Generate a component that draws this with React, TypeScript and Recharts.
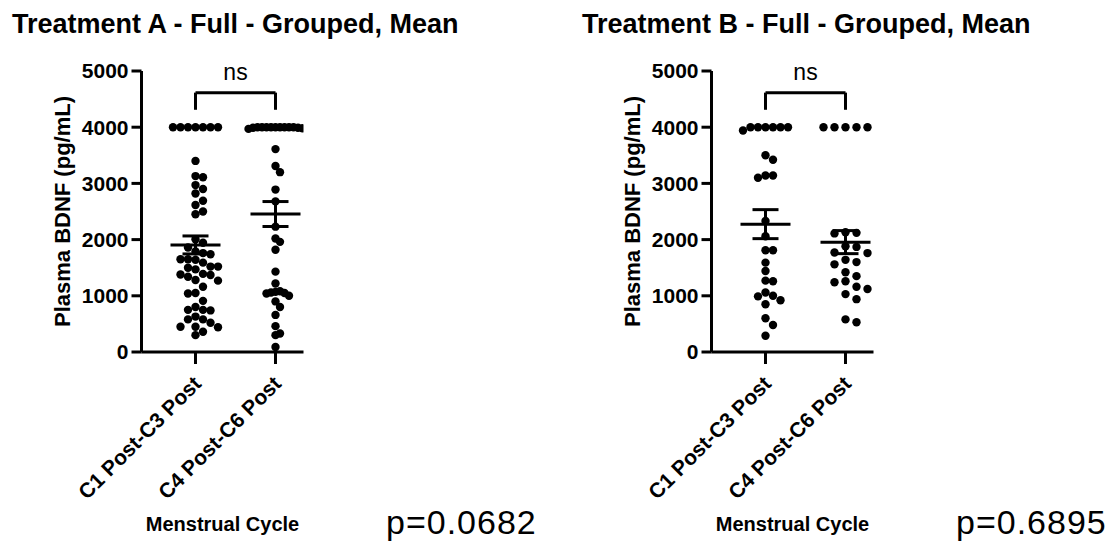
import React from "react"
import { ScatterChart, Scatter, XAxis, YAxis, ErrorBar, ReferenceLine, Label } from "recharts"

// categories and axis ticks
const groups = ["C1 Post-C3 Post", "C4 Post-C6 Post"]
const yTicks = [0, 1000, 2000, 3000, 4000, 5000]

// plasma BDNF (pg/mL)
const treatmentA_C1C3 = [
  4000, 4000, 4000, 4000, 4000, 4000, 4000, 3400, 3130, 3110, 2970, 2900, 2820, 2690, 2615, 2500, 2450,
  2005, 1945, 1860, 1790, 1760, 1740, 1650, 1650, 1640, 1590, 1520, 1520, 1500, 1470, 1390, 1380, 1370,
  1340, 1280, 1270, 1160, 1050, 1040, 910, 800, 750, 750, 740, 630, 580, 580, 520, 450, 450, 440, 360, 300,
]
const treatmentA_C4C6 = [
  4000, 4000, 4000, 3990, 4000, 3980, 4000, 4000, 3990, 4000, 4000, 3970, 4000, 3610, 3310, 3200, 2890,
  2680, 2230, 2020, 1960, 1820, 1430, 1220, 1080, 1070, 1060, 1050, 1040, 1000, 900, 800, 660, 460, 330,
  300, 90,
]
const treatmentB_C1C3 = [
  4000, 4000, 3940, 4000, 4000, 4000, 4000, 3500, 3420, 3140, 3100, 3140, 2330, 2060, 1810, 1810, 1590,
  1440, 1270, 1260, 1060, 1000, 990, 920, 850, 600, 480, 290,
]
const treatmentB_C4C6 = [
  4000, 4000, 4000, 4000, 4000, 2130, 2110, 2120, 1880, 1870, 1770, 1760, 1640, 1600, 1560, 1420, 1350,
  1260, 1240, 1160, 1120, 1030, 940, 580, 530,
]

// mean and SEM per group
const meansA = [1905, 2455]
const semA = [160, 222]
const meansB = [2275, 1955]
const semB = [258, 205]

const titles = ["Treatment A - Full - Grouped, Mean", "Treatment B - Full - Grouped, Mean"]
const pValues = ["p=0.0682", "p=0.6895"]
const sigLabel = "ns"

// layout
const FONT = "'Liberation Sans', Arial, Helvetica, sans-serif"
const CHART_W = 556
const CHART_H = 544
const PLOT_H = 281
const X_PX_PER_UNIT = 80
const Y_MAX = 5000
const DOT_R = 4.2
const BRACKET_TOP = 4615
const BRACKET_FOOT = 4310

// lattice beeswarm like Prism: each point takes the nearest free column slot
function swarm(values: number[], center: number, slotPx: number) {
  const yPx = PLOT_H / Y_MAX
  const placed: { k: number; v: number }[] = []
  return [...values]
    .sort((a, b) => b - a)
    .map((v) => {
      let k = 0
      for (let i = 0; i < 50; i++) {
        k = i === 0 ? 0 : i % 2 ? (i + 1) / 2 : -i / 2
        if (!placed.some((p) => p.k === k && Math.abs(p.v - v) * yPx < DOT_R * 2)) break
      }
      placed.push({ k, v })
      return { x: center + (k * slotPx) / X_PX_PER_UNIT, y: v }
    })
}

const Dot = (props: any) => <circle cx={props.cx} cy={props.cy} r={DOT_R} fill="#000" />

const MeanBar = (props: any) => (
  <line x1={props.cx - 25} x2={props.cx + 25} y1={props.cy} y2={props.cy} stroke="#000" strokeWidth={3} />
)

const CategoryTick = (props: any) => {
  const { x, y, payload } = props
  const tx = x + 7
  const ty = y + 19
  return (
    <text
      x={tx}
      y={ty}
      transform={`rotate(-45 ${tx} ${ty})`}
      textAnchor="end"
      fontSize={21}
      fontWeight={700}
      fill="#000"
    >
      {groups[payload.value]}
    </text>
  )
}

const YTitle = (props: any) => {
  const { viewBox } = props
  const cx = viewBox.x + 8
  const cy = viewBox.y + viewBox.height / 2
  return (
    <text x={cx} y={cy} transform={`rotate(-90 ${cx} ${cy})`} textAnchor="middle" fontSize={22} fontWeight={700} fill="#000">
      Plasma BDNF (pg/mL)
    </text>
  )
}

const XTitle = (props: any) => {
  const { viewBox } = props
  return (
    <text x={viewBox.x + viewBox.width / 2} y={viewBox.y + 179} textAnchor="middle" fontSize={20} fontWeight={700} fill="#000">
      Menstrual Cycle
    </text>
  )
}

interface PanelProps {
  left: number
  title: string
  pValue: string
  series: number[][]
  means: number[]
  sems: number[]
  slots: number[]
}

function Panel({ left, title, pValue, series, means, sems, slots }: PanelProps) {
  const meanData = means.map((m, i) => ({ x: i, y: m, sem: sems[i] }))
  return (
    <div style={{ position: "absolute", left, top: 0, width: CHART_W, height: CHART_H }}>
      <div style={{ position: "absolute", left: 12, top: 11, fontSize: 27, lineHeight: 1, fontWeight: 700, whiteSpace: "nowrap" }}>
        {title}
      </div>
      <div
        style={{
          position: "absolute",
          left: 386,
          top: 505,
          fontSize: 34,
          lineHeight: 1,
          letterSpacing: 1,
          whiteSpace: "nowrap",
        }}
      >
        {pValue}
      </div>
      <ScatterChart width={CHART_W} height={CHART_H} margin={{ top: 71, right: 252.5, bottom: 12, left: 61.5 }}>
        <XAxis
          type="number"
          dataKey="x"
          domain={[-0.675, 1.35]}
          ticks={[0, 1]}
          allowDataOverflow
          height={180}
          tickSize={12}
          axisLine={{ stroke: "#000", strokeWidth: 3 }}
          tickLine={{ stroke: "#000", strokeWidth: 3 }}
          tick={<CategoryTick />}
          interval={0}
        >
          <Label content={<XTitle />} />
        </XAxis>
        <YAxis
          type="number"
          dataKey="y"
          domain={[0, Y_MAX]}
          ticks={yTicks}
          width={80}
          tickSize={10}
          tickMargin={3}
          axisLine={{ stroke: "#000", strokeWidth: 3 }}
          tickLine={{ stroke: "#000", strokeWidth: 3 }}
          tick={{ fill: "#000", fontSize: 21, fontWeight: 700 }}
        >
          <Label content={<YTitle />} />
        </YAxis>
        {series.map((vals, i) => (
          <Scatter key={i} data={swarm(vals, i, slots[i])} shape={<Dot />} isAnimationActive={false} />
        ))}
        <Scatter data={meanData} shape={<MeanBar />} isAnimationActive={false}>
          <ErrorBar dataKey="sem" direction="y" width={13} stroke="#000" strokeWidth={3} />
        </Scatter>
        <ReferenceLine segment={[{ x: 0, y: BRACKET_FOOT }, { x: 0, y: BRACKET_TOP }]} stroke="#000" strokeWidth={3} />
        <ReferenceLine
          segment={[{ x: 0, y: BRACKET_TOP }, { x: 1, y: BRACKET_TOP }]}
          stroke="#000"
          strokeWidth={3}
          label={{ value: sigLabel, position: "top", offset: 13, fill: "#000", fontSize: 23 }}
        />
        <ReferenceLine segment={[{ x: 1, y: BRACKET_TOP }, { x: 1, y: BRACKET_FOOT }]} stroke="#000" strokeWidth={3} />
      </ScatterChart>
    </div>
  )
}

export default function App() {
  return (
    <div
      style={{
        position: "absolute",
        left: 0,
        top: 0,
        width: 1112,
        height: 544,
        background: "#fff",
        color: "#000",
        fontFamily: FONT,
      }}
    >
      <Panel
        left={0}
        title={titles[0]}
        pValue={pValues[0]}
        series={[treatmentA_C1C3, treatmentA_C4C6]}
        means={meansA}
        sems={semA}
        slots={[7.5, 4.5]}
      />
      <Panel
        left={570}
        title={titles[1]}
        pValue={pValues[1]}
        series={[treatmentB_C1C3, treatmentB_C4C6]}
        means={meansB}
        sems={semB}
        slots={[7.5, 11]}
      />
    </div>
  )
}
